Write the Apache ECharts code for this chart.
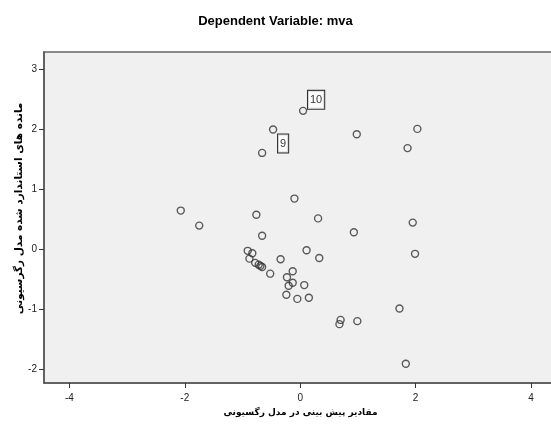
<!DOCTYPE html>
<html>
<head>
<meta charset="utf-8">
<script src="https://cdn.jsdelivr.net/npm/echarts@6/dist/echarts.min.js"></script>
<style>html,body{margin:0;padding:0;background:#fff}#c{width:551px;height:435px}</style>
</head>
<body>
<div id="c"></div>
<script>
const titleText = 'Dependent Variable: mva';
const xTitle = 'مقادیر پیش بینی در مدل رگسیونی';
const yTitle = 'مانده های استاندارد شده مدل رگرسیونی';
const xTicks = [-4, -2, 0, 2, 4];
const yTicks = [-2, -1, 0, 1, 2, 3];
const predicted = [-2.07, -1.75, -0.10, -0.76, 0.31, 0.93, -0.66, -0.91, -0.83, -0.88,
  -0.78, -0.72, -0.66, -0.69, -0.34, 0.11, 0.33, -0.52, -0.13, -0.23,
  -0.13, -0.20, 0.07, -0.24, -0.05, 0.15, 0.70, 0.68, 0.99, 2.03,
  0.98, 1.86, 1.95, 1.99, 1.72, 1.83, 0.05, -0.47, -0.66];
const residual = [0.64, 0.39, 0.84, 0.57, 0.51, 0.28, 0.22, -0.03, -0.07, -0.16,
  -0.23, -0.26, -0.30, -0.28, -0.17, -0.02, -0.15, -0.41, -0.37, -0.47,
  -0.56, -0.61, -0.60, -0.76, -0.83, -0.81, -1.18, -1.25, -1.20, 2.00,
  1.91, 1.68, 0.44, -0.08, -0.99, -1.91, 2.30, 1.99, 1.60];
const caseLabels = ['', '', '', '', '', '', '', '', '', '',
  '', '', '', '', '', '', '', '', '', '',
  '', '', '', '', '', '', '', '', '', '',
  '', '', '', '', '', '', '10', '9', ''];

const labelOffsets = {'10': [13, -11], '9': [10, 14]};
const data = predicted.map((x, i) => {
  const item = {value: [x, residual[i]], name: caseLabels[i]};
  if (caseLabels[i]) {
    item.label = {
      show: true, position: 'inside', offset: labelOffsets[caseLabels[i]],
      formatter: '{b}', color: '#000', fontSize: 11, fontFamily: 'Liberation Sans, Arial',
      backgroundColor: '#fff', borderColor: '#000', borderWidth: 1, padding: [4, 2, 3, 2]
    };
  }
  return item;
});

const chart = echarts.init(document.getElementById('c'), null, {renderer: 'canvas'});
chart.setOption({
  animation: false,
  backgroundColor: '#fff',
  title: {
    text: titleText, left: 'center', top: 10,
    textStyle: {fontFamily: 'Liberation Sans, Arial', fontSize: 13, fontWeight: 'bold', color: '#000'}
  },
  grid: {
    left: 44, right: -6, top: 52, bottom: 52, show: true,
    outerBoundsMode: 'none', containLabel: false,
    backgroundColor: '#f0f0f0', borderColor: '#666', borderWidth: 1.5
  },
  xAxis: {
    type: 'value', min: -4.44, max: 4.45,
    name: xTitle, nameLocation: 'middle', nameGap: 25, nameMoveOverlap: false,
    nameTextStyle: {fontFamily: 'DejaVu Sans', fontSize: 9, fontWeight: 'bold', color: '#000'},
    axisLine: {show: true, onZero: false, lineStyle: {color: '#555', width: 1.5}},
    axisTick: {show: true, length: 5, customValues: xTicks, lineStyle: {color: '#333'}},
    axisLabel: {customValues: xTicks, color: '#222', fontSize: 10, fontFamily: 'Liberation Sans, Arial', margin: 10},
    splitLine: {show: false}
  },
  yAxis: {
    type: 'value', min: -2.23, max: 3.28,
    name: yTitle, nameLocation: 'middle', nameGap: 19, nameRotate: 90, nameMoveOverlap: false,
    nameTextStyle: {fontFamily: 'DejaVu Sans', fontSize: 10.5, fontWeight: 'bold', color: '#000', padding: [0, 0, 0, 18]},
    axisLine: {show: true, onZero: false, lineStyle: {color: '#555', width: 1.5}},
    axisTick: {show: true, length: 5, customValues: yTicks, lineStyle: {color: '#333'}},
    axisLabel: {customValues: yTicks, color: '#222', fontSize: 10, fontFamily: 'Liberation Sans, Arial', margin: 7},
    splitLine: {show: false}
  },
  series: [{
    type: 'scatter',
    data: data,
    symbol: 'circle', symbolSize: 7,
    itemStyle: {color: 'rgba(0,0,0,0)', borderColor: '#333', borderWidth: 1.4},
    emphasis: {disabled: true}
  }]
});
</script>
</body>
</html>
